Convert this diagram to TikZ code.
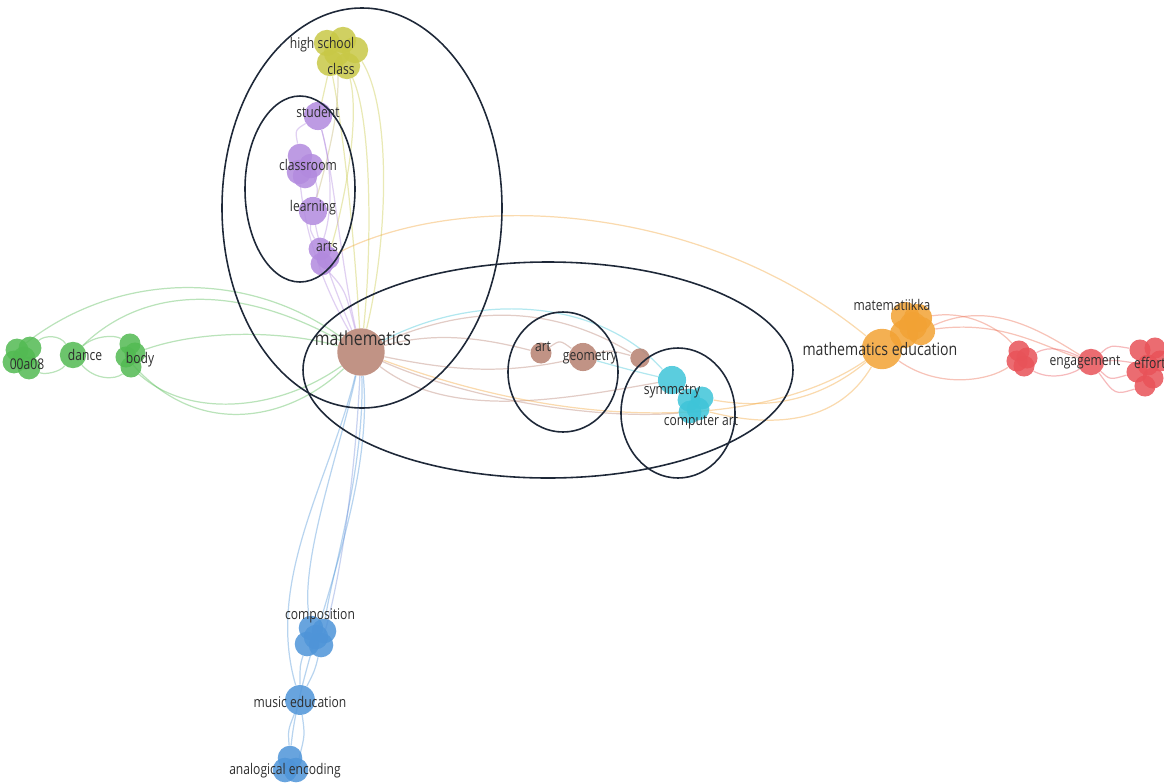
\documentclass[tikz,border=0pt]{standalone}
\usepackage{fontspec}
\setmainfont[FakeStretch=0.82]{Open Sans}
\usetikzlibrary{positioning}
\pgfdeclarelayer{edges}
\pgfsetlayers{edges,main}

\definecolor{yellowc}{RGB}{200,200,70}
\definecolor{purplec}{RGB}{178,138,222}
\definecolor{brownc}{RGB}{182,128,112}
\definecolor{greenc}{RGB}{82,186,82}
\definecolor{cyanc}{RGB}{62,196,216}
\definecolor{orangec}{RGB}{242,162,52}
\definecolor{redc}{RGB}{232,82,88}
\definecolor{bluec}{RGB}{78,148,216}
\definecolor{ringc}{RGB}{30,40,56}

\begin{document}
\begin{tikzpicture}[x=0.02cm, y=-0.02cm,
    bubble/.style={circle, inner sep=0pt, minimum size=#1, fill opacity=0.85},
    bubble/.default=15,
    lbl/.style={inner sep=0pt, text=black!82, font=\fontsize{8.4}{9}\selectfont},
    biglbl/.style={lbl, font=\fontsize{9.8}{10}\selectfont},
    link/.style={line width=0.7pt, draw opacity=0.4},
    ring/.style={draw=ringc, line width=0.9pt}]

\useasboundingbox (0,0) rectangle (1164,782);

% high school / class (yellow)
\foreach \p [count=\i] in {(327,43),(343,40),(355,50),(337,53),(330,63),(347,66)}
{
    \node[bubble=15, fill=yellowc] (hs\i) at \p {};
}
\node[lbl] (hslbl) at (322,45) {high school};
\node[lbl] (classlbl) at (341,69) {class};

% student, classroom, learning, arts (purple)
\node[bubble=16, fill=purplec] (student) at (318,116) {};
\foreach \p [count=\i] in {(300,156),(311,166),(299,172),(305,176)}
{
    \node[bubble=14, fill=purplec] (room\i) at \p {};
}
\node[bubble=16, fill=purplec] (learning) at (313,211) {};
\foreach \p [count=\i] in {(320,249),(328,258),(322,264)}
{
    \node[bubble=13, fill=purplec] (arts\i) at \p {};
}
\node[lbl] (studentlbl) at (318,112) {student};
\node[lbl] (roomlbl) at (308,165) {classroom};
\node[lbl] (learninglbl) at (313,208) {learning};
\node[lbl] (artslbl) at (327,247) {arts};

% mathematics (brown)
\node[bubble=27, fill=brownc] (math) at (361,352) {};
\node[lbl, font=\fontsize{11}{12}\selectfont] (mathlbl) at (363,338) {mathematics};

% 00a08, dance, body (green)
\foreach \p [count=\i] in {(17,350),(30,348),(24,358),(14,362),(29,368)}
{
    \node[bubble=13, fill=greenc] (oa\i) at \p {};
}
\node[bubble=15, fill=greenc] (dance) at (73,355) {};
\foreach \p [count=\i] in {(130,344),(135,353),(126,357),(131,367)}
{
    \node[bubble=12, fill=greenc] (body\i) at \p {};
}
\node[lbl] (oalbl) at (27,364) {00a08};
\node[lbl] (dancelbl) at (85,355) {dance};
\node[lbl] (bodylbl) at (140,360) {body};

% art, geometry (brown) and symmetry, computer art (cyan)
\node[bubble=12, fill=brownc] (art) at (541,353) {};
\node[bubble=16, fill=brownc] (geometry) at (583,357) {};
\node[bubble=11, fill=brownc] (spot) at (640,358) {};
\node[bubble=16, fill=cyanc] (symmetry) at (672,380) {};
\foreach \p [count=\i] in {(689,400),(702,398),(698,409),(690,412)}
{
    \node[bubble=13, fill=cyanc] (cart\i) at \p {};
}
\node[lbl] (artlbl) at (543,347) {art};
\node[lbl] (geomlbl) at (590,357) {geometry};
\node[lbl] (symlbl) at (672,391) {symmetry};
\node[lbl] (cartlbl) at (701,422) {computer art};

% matematiikka, mathematics education (orange)
\foreach \p [count=\i] in {(905,316),(918,318),(921,331),(904,334),(913,326)}
{
    \node[bubble=16, fill=orangec] (mat\i) at \p {};
}
\node[bubble=23, fill=orangec] (medu) at (882,349) {};
\node[lbl] (matlbl) at (892,305) {matematiikka};
\node[biglbl] (medulbl) at (880,349) {mathematics education};

% engagement, effort (red)
\foreach \p [count=\i] in {(1019,351),(1027,358),(1017,361),(1024,366)}
{
    \node[bubble=12, fill=redc] (grp\i) at \p {};
}
\node[bubble=15, fill=redc] (engage) at (1091,362) {};
\foreach \p [count=\i] in {(1140,350),(1155,348),(1160,361),(1148,365),(1137,372),(1153,378),(1145,386)}
{
    \node[bubble=12, fill=redc] (effort\i) at \p {};
}
\node[lbl] (engagelbl) at (1085,362) {engagement};
\node[lbl] (effortlbl) at (1150,363) {effort};

% composition, music education, analogical encoding (blue)
\foreach \p [count=\i] in {(311,628),(324,631),(307,644),(321,645),(316,637)}
{
    \node[bubble=14, fill=bluec] (comp\i) at \p {};
}
\node[bubble=17, fill=bluec] (music) at (300,700) {};
\foreach \p [count=\i] in {(290,758),(296,770),(285,770)}
{
    \node[bubble=14, fill=bluec] (analog\i) at \p {};
}
\node[lbl] (complbl) at (320,616) {composition};
\node[lbl] (musiclbl) at (300,702) {music education};
\node[lbl] (analoglbl) at (285,771) {analogical encoding};

% links
\begin{pgfonlayer}{edges}
% yellow
\draw[link, yellowc] (math) .. controls (372,250) and (372,120) .. (hs6);
\draw[link, yellowc] (math) .. controls (388,240) and (392,110) .. (hs3);
\draw[link, yellowc] (math) .. controls (355,250) and (345,140) .. (hs5);
\draw[link, yellowc] (arts2) .. controls (345,200) and (360,120) .. (hs6);
\draw[link, yellowc] (student) .. controls (325,90) .. (hs5);
\draw[link, yellowc!70!purplec] (learning) .. controls (330,150) and (340,110) .. (hs4);
% purple
\draw[link, purplec] (math) .. controls (345,290) .. (arts3);
\draw[link, purplec] (math) .. controls (335,290) and (320,250) .. (learning);
\draw[link, purplec] (math) .. controls (320,280) and (305,230) .. (room3);
\draw[link, purplec] (math) .. controls (340,260) and (335,180) .. (student);
\draw[link, purplec] (student) .. controls (295,130) .. (room1);
\draw[link, purplec] (room2) .. controls (318,190) .. (learning);
\draw[link, purplec] (learning) .. controls (310,230) .. (arts1);
\draw[link, purplec] (student) .. controls (335,180) and (330,220) .. (arts1);
% green
\draw[link, greenc] (oa2) .. controls (45,335) and (60,335) .. (dance);
\draw[link, greenc] (oa5) .. controls (45,375) and (60,372) .. (dance);
\draw[link, greenc] (dance) .. controls (95,335) and (115,335) .. (body1);
\draw[link, greenc] (dance) .. controls (95,380) and (115,380) .. (body4);
\draw[link, greenc] (dance) .. controls (140,290) and (230,280) .. (math);
\draw[link, greenc] (oa1) .. controls (120,270) and (250,270) .. (math);
\draw[link, greenc] (body2) .. controls (200,330) and (280,330) .. (math);
\draw[link, greenc] (body4) .. controls (190,420) and (280,410) .. (math);
\draw[link, greenc] (body3) .. controls (200,440) and (290,420) .. (math);
% blue
\draw[link, bluec] (math) .. controls (340,450) and (300,560) .. (comp1);
\draw[link, bluec] (math) .. controls (365,470) and (330,580) .. (comp2);
\draw[link, bluec!60!purplec] (math) .. controls (355,480) and (340,580) .. (comp4);
\draw[link, bluec] (math) .. controls (330,480) and (265,580) .. (music);
\draw[link, bluec] (math) .. controls (375,500) and (300,650) .. (analog1);
\draw[link, bluec] (comp3) .. controls (300,665) .. (music);
\draw[link, bluec] (comp4) .. controls (315,670) .. (music);
\draw[link, bluec] (music) .. controls (288,730) .. (analog1);
\draw[link, bluec] (music) .. controls (305,735) .. (analog2);
% brown and cyan
\draw[link, brownc] (math) .. controls (440,330) and (490,340) .. (art);
\draw[link, brownc] (math) .. controls (450,370) and (500,375) .. (geometry);
\draw[link, brownc] (art) .. controls (560,340) .. (geometry);
\draw[link, brownc] (geometry) .. controls (610,350) .. (spot);
\draw[link, brownc] (math) .. controls (480,300) and (560,310) .. (spot);
\draw[link, brownc] (math) .. controls (450,420) and (560,400) .. (symmetry);
\draw[link, cyanc] (math) .. controls (480,290) and (600,300) .. (symmetry);
\draw[link, cyanc] (geometry) .. controls (630,370) .. (symmetry);
\draw[link, cyanc] (symmetry) .. controls (680,395) .. (cart1);
\draw[link, brownc] (math) .. controls (470,400) and (600,420) .. (cart4);
% orange
\draw[link, orangec] (arts2) .. controls (460,190) and (700,200) .. (medu);
\draw[link, orangec] (math) .. controls (600,440) and (780,420) .. (medu);
\draw[link, orangec] (cart2) .. controls (770,410) and (820,400) .. (medu);
\draw[link, orangec] (cart3) .. controls (780,430) and (840,420) .. (medu);
\draw[link, orangec] (medu) .. controls (895,335) .. (mat4);
% red
\draw[link, redc!70!orangec] (mat2) .. controls (970,310) and (1000,330) .. (grp1);
\draw[link, redc!70!orangec] (medu) .. controls (940,390) and (990,380) .. (grp3);
\draw[link, redc!70!orangec] (mat3) .. controls (990,300) and (1040,330) .. (engage);
\draw[link, redc!70!orangec] (mat3) .. controls (1000,320) and (1040,345) .. (engage);
\draw[link, redc] (grp2) .. controls (1050,345) and (1065,350) .. (engage);
\draw[link, redc] (grp4) .. controls (1050,380) and (1070,375) .. (engage);
\draw[link, redc] (engage) .. controls (1110,345) .. (effort1);
\draw[link, redc] (engage) .. controls (1115,360) .. (effort4);
\draw[link, redc] (engage) .. controls (1110,380) .. (effort5);
\draw[link, redc] (engage) .. controls (1115,395) .. (effort7);
\end{pgfonlayer}

% cluster rings
\draw[ring] (362,208) ellipse [x radius=140, y radius=200];
\draw[ring] (300,189) ellipse [x radius=55, y radius=93];
\draw[ring] (548,370) ellipse [x radius=245, y radius=108];
\draw[ring] (563,372) ellipse [x radius=55, y radius=60];
\draw[ring] (678,413) ellipse [x radius=57, y radius=65];

\end{tikzpicture}
\end{document}
